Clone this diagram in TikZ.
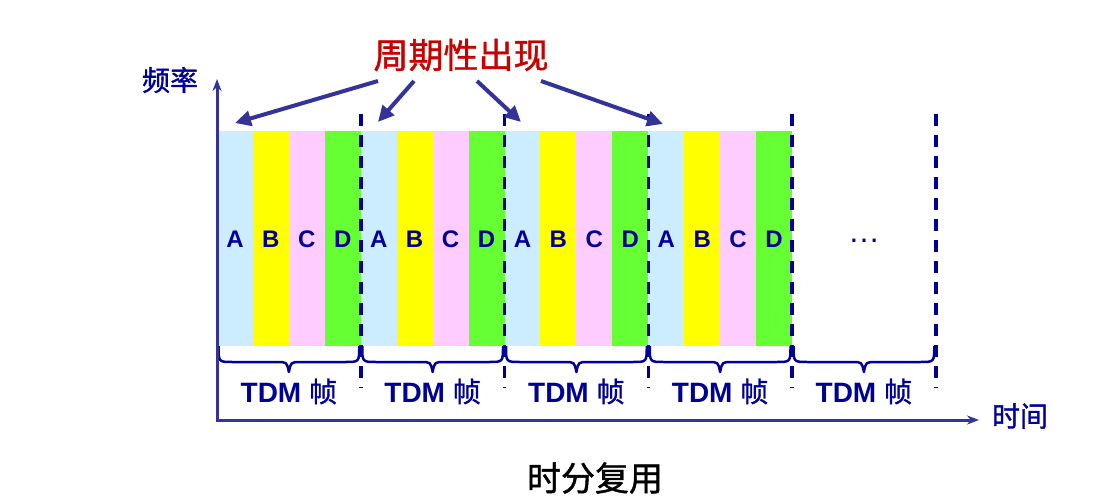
\documentclass[tikz,border=0pt]{standalone}
\usepackage{fontspec}
\setmainfont{Liberation Sans}
\newfontfamily\cjk{Noto Sans CJK SC}[BoldFont={Noto Sans CJK SC}, BoldFeatures={FakeBold=1.2}]
\usetikzlibrary{arrows.meta}
\definecolor{axisblue}{RGB}{51,51,153}
\definecolor{navy}{RGB}{0,0,153}
\definecolor{slotA}{RGB}{204,236,255}
\definecolor{slotB}{RGB}{255,255,0}
\definecolor{slotC}{RGB}{255,204,255}
\definecolor{slotD}{RGB}{102,255,51}
\definecolor{titlered}{RGB}{200,0,0}
\begin{document}
\begin{tikzpicture}[x=1pt,y=-1pt,
  slotlabel/.style={font=\bfseries\fontsize{24}{24}\selectfont, text=navy, inner sep=0pt, anchor=base},
  framelabel/.style={font=\bfseries\fontsize{28}{28}\selectfont, text=navy, inner sep=0pt, anchor=base},
  cjklabel/.style={font=\cjk\bfseries\fontsize{#1}{#1}\selectfont, inner sep=0pt},
  framesep/.style={navy, line width=3.5pt, dash pattern=on 12pt off 9pt},
  bracepath/.style={navy, line width=2.5pt, line join=round},
  axis/.style={axisblue, line width=3pt},
  pointer/.style={axisblue, line width=4pt, -{Triangle[length=16pt,width=15pt]}}]
\useasboundingbox (0,0) rectangle (1118,500);

% time slots A-D in four frames
\foreach \i in {0,...,3}
  \foreach \j/\c/\l in {0/slotA/A,1/slotB/B,2/slotC/C,3/slotD/D} {
    \fill[\c] ({217+\i*143.75+\j*35.9375},131) rectangle ++(35.9375,215);
    \node[slotlabel] (s\i\l) at ({217+\i*143.75+(\j+0.5)*35.9375},247) {\l};
  }
\node[font=\fontsize{32}{32}\selectfont, text=navy, inner sep=0pt, anchor=base] (more) at (864,242) {…};

% frame boundaries
\foreach \i in {1,...,5}
  \draw[framesep] ({217+\i*143.75},114) -- ({217+\i*143.75},388);

% braces under each frame and their labels
\foreach \i in {0,...,4} {
  \pgfmathsetmacro{\xa}{218.5+\i*143.75}
  \pgfmathsetmacro{\xb}{215.5+(\i+1)*143.75}
  \pgfmathsetmacro{\xm}{217+(\i+0.5)*143.75}
  \draw[bracepath] (\xa,346) .. controls (\xa,362) .. (\xa+14,362)
    -- (\xm-12,362) .. controls (\xm-2,362) .. (\xm,372)
    .. controls (\xm+2,362) .. (\xm+12,362)
    -- (\xb-14,362) .. controls (\xb,362) .. (\xb,346);
  \node[framelabel] (f\i) at (\xm,402) {TDM {\cjk 帧}};
}

% axes
\coordinate (origin) at (217,420);
\coordinate (ytop) at (217,79);
\coordinate (xend) at (979,420);
\draw[axis, {Stealth[length=12pt,width=9pt]}-{Stealth[length=12pt,width=9pt]}]
  (ytop) -- (origin) -- (xend);
\node[cjklabel=28, text=navy] (freq) at (170,80) {频率};
\node[cjklabel=28, text=navy] (time) at (1020,416) {时间};

% title and pointers to the repeating slot
\node[cjklabel=35, text=titlered] (title) at (461,55) {周期性出现};
\coordinate (p1s) at (378,81);  \coordinate (p1e) at (235,123);
\coordinate (p2s) at (414,81);  \coordinate (p2e) at (378,122);
\coordinate (p3s) at (477,81);  \coordinate (p3e) at (521,122);
\coordinate (p4s) at (541,81);  \coordinate (p4e) at (663,124);
\foreach \k in {1,...,4}
  \draw[pointer] (p\k s) -- (p\k e);

\node[cjklabel=34, text=black] (caption) at (595,478) {时分复用};
\end{tikzpicture}
\end{document}
